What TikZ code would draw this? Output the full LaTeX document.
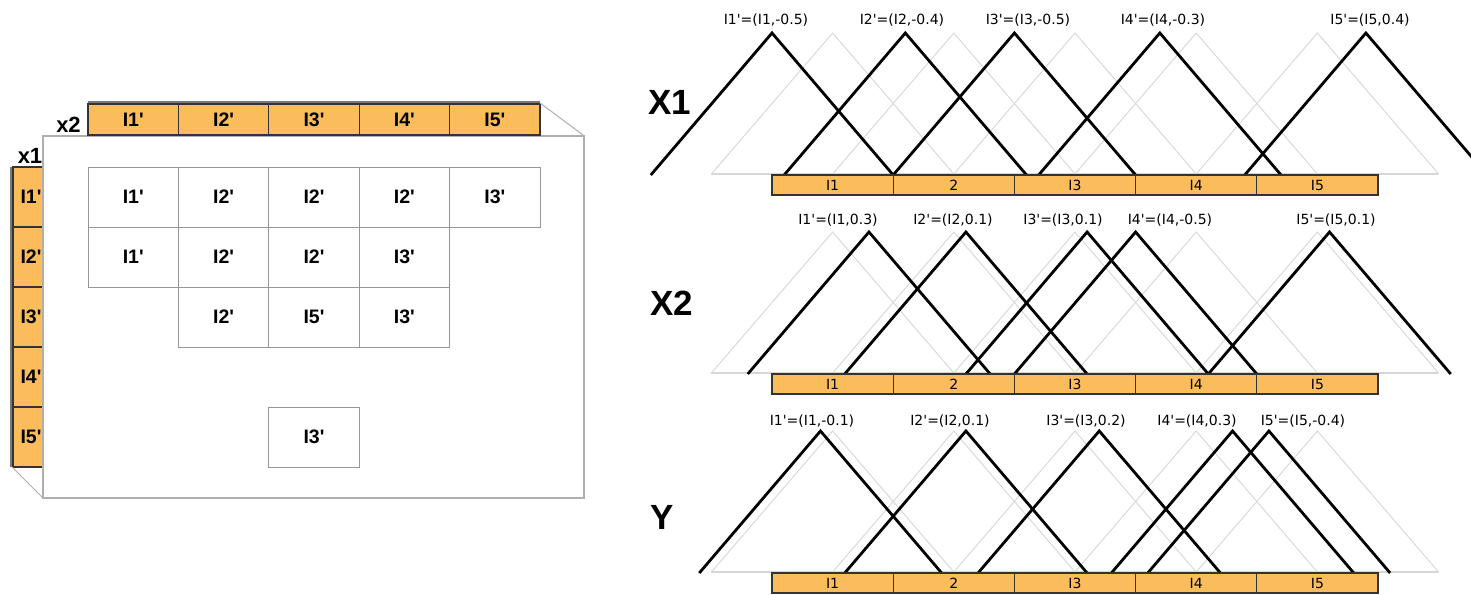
\documentclass[tikz,border=0pt]{standalone}
\usepackage{fontspec}
\newfontfamily\mainsans{Liberation Sans}
\newfontfamily\dejavu{DejaVu Sans}
\definecolor{barorange}{RGB}{251,188,92}
\definecolor{gridgray}{RGB}{150,150,150}
\definecolor{boxgray}{RGB}{175,175,175}
\definecolor{ghostgray}{RGB}{215,215,215}
\definecolor{bandgray}{RGB}{120,120,120}
% #1 base y, #2 name prefix, #3 list k/shift/label-x, #4 label y
\newcommand\fzrow[4]{%
  \foreach \k in {1,...,5}{%
    \pgfmathsetmacro\c{772+121.2*(\k-0.5)}%
    \draw[ghost] ({\c-121.2},{#1-1}) -- ({\c},{#1-142}) -- ({\c+121.2},{#1-1});
  }
  \draw[ghostbase] (711,{#1-1}) -- (1438,{#1-1});
  \foreach \k/\s/\lx in {#3}{%
    \pgfmathsetmacro\c{772+121.2*(\k-0.5)}%
    \pgfmathsetmacro\a{\c+121.2*\s}%
    \draw[fuzzy] ({\a-121.2},{#1}) -- ({\a},{#1-142}) -- ({\a+121.2},{#1});
    \node[lbl] (#2lab\k) at (\lx,#4) {I\k'=(I\k,\s)};
  }
  \foreach \k/\t in {1/I1,2/2,3/I3,4/I4,5/I5}{%
    \node[orangeseg, minimum width=121.2pt, minimum height=20pt, font=\dejavu\fontsize{14}{14}\selectfont]
      (#2seg\k) at ({772+121.2*(\k-0.5)},{#1+10}) {\raisebox{-2pt}{\t}};
  }
}
\begin{document}
\begin{tikzpicture}[x=1pt,y=-1pt,
  orangeseg/.style={draw=black!80, line width=1.3pt, fill=barorange, inner sep=0pt, outer sep=0pt},
  cell/.style={draw=gridgray, line width=1pt, minimum width=90.4pt, minimum height=60pt,
    inner sep=0pt, font=\mainsans\fontsize{19.5}{19.5}\selectfont\bfseries},
  segtext/.style={font=\mainsans\fontsize{19.5}{19.5}\selectfont\bfseries},
  lbl/.style={font=\dejavu\fontsize{14}{14}\selectfont, inner sep=0pt},
  axislbl/.style={font=\mainsans\fontsize{35}{35}\selectfont\bfseries, anchor=west, inner sep=0pt},
  smallaxis/.style={font=\mainsans\fontsize{22}{22}\selectfont\bfseries, inner sep=0pt},
  ghost/.style={draw=ghostgray, line width=0.9pt, line join=miter},
  ghostbase/.style={draw=ghostgray, line width=1.6pt},
  fuzzy/.style={draw=black, line width=2.8pt, line join=miter},
  persp/.style={draw=boxgray, line width=1pt}]
\fill[white] (0,0) rectangle (1471,594);
\clip (0,0) rectangle (1471,594);

% ---------- left panel ----------
% left bar x1
\draw[bandgray, line width=3pt] (11.5,167) -- (11.5,467);
\foreach \k in {1,...,5}{%
  \node[orangeseg, minimum width=34pt, minimum height=60pt] (lb\k) at (30,{167+60*(\k-0.5)}) {};
  \node[segtext, inner sep=0pt] (lbt\k) at (31,{167+60*(\k-0.5)}) {I\k'};
}
% perspective edges
\coordinate (lbBL) at (12,467);
\coordinate (fBL) at (42,497);
\draw[persp] (lbBL) -- (fBL);
% front face
\node[draw=boxgray, line width=1.5pt, fill=white, minimum width=541pt, minimum height=362pt,
  inner sep=0pt, anchor=north west] (front) at (42,135) {};
% top bar x2
\draw[bandgray, line width=3pt] (88,102.5) -- (540,102.5);
\foreach \k in {1,...,5}{%
  \node[orangeseg, minimum width=90.4pt, minimum height=31pt, font=\mainsans\fontsize{19.5}{19.5}\selectfont\bfseries]
    (tb\k) at ({88+90.4*(\k-0.5)},119.5) {I\k'};
}
\coordinate (tbTR) at (540,103);
\coordinate (fTR) at (583,135);
\draw[persp] (tbTR) -- (fTR);
\node[smallaxis] (x2lab) at (68.5,125) {x2};
\node[smallaxis] (x1lab) at (30,155.5) {x1};

% grid cells
\foreach \r/\cc/\t in {1/1/I1', 1/2/I2', 1/3/I2', 1/4/I2', 1/5/I3',
                       2/1/I1', 2/2/I2', 2/3/I2', 2/4/I3',
                       3/2/I2', 3/3/I5', 3/4/I3',
                       5/3/I3'}{%
  \node[cell] (cell\r\cc) at ({88+90.4*(\cc-0.5)},{167+60*(\r-0.5)}) {\t};
}

% ---------- right panel ----------
\node[axislbl] (lx1) at (648,102) {X1};
\node[axislbl] (lx2) at (650,303) {X2};
\node[axislbl] (ly) at (650,517) {Y};

\fzrow{175}{a}{1/-0.5/766, 2/-0.4/902, 3/-0.5/1028, 4/-0.3/1163, 5/0.4/1370}{20}
\fzrow{374}{b}{1/0.3/838, 2/0.1/953, 3/0.1/1063, 4/-0.5/1170, 5/0.1/1336}{220}
\fzrow{573}{c}{1/-0.1/812, 2/0.1/950, 3/0.2/1086, 4/0.3/1197, 5/-0.4/1303}{421}
\end{tikzpicture}
\end{document}
